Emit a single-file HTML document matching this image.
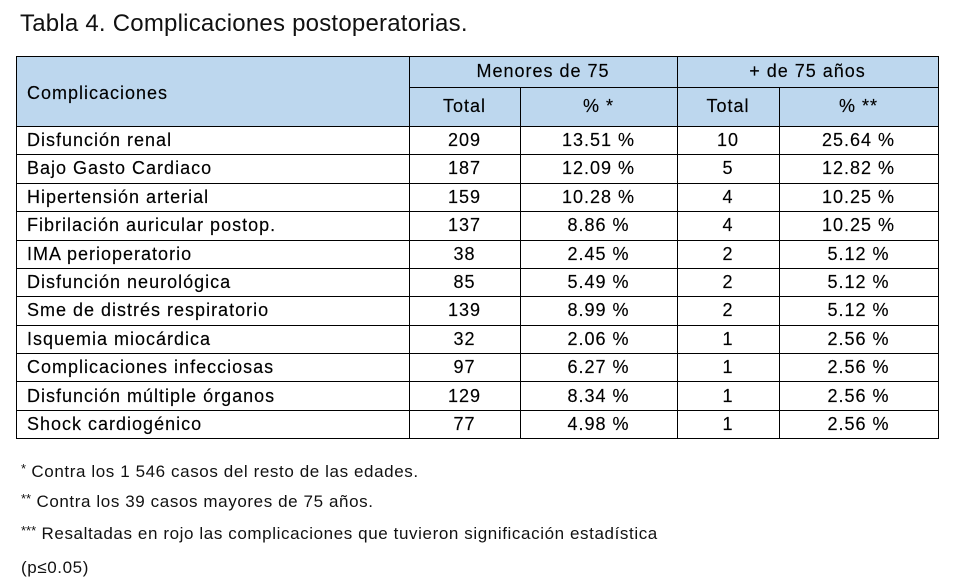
<!DOCTYPE html>
<html>
<head>
<meta charset="utf-8">
<style>
  html,body{margin:0;padding:0;background:#fff;}
  body{width:958px;height:570px;position:relative;overflow:hidden;font-family:"Liberation Sans",Arial,sans-serif;color:#000;}
  .abs{position:absolute;}
  .title{left:20px;top:12px;font-size:24px;line-height:24px;letter-spacing:0.22px;white-space:nowrap;color:#111;}
  .hbg{left:17px;top:57px;width:921px;height:69px;background:#bdd7ee;}
  .hl{position:absolute;height:1px;background:#000;}
  .vl{position:absolute;width:1px;background:#000;}
  .t{position:absolute;font-size:18px;letter-spacing:1px;white-space:nowrap;color:#000;-webkit-text-stroke:0.15px #000;}
  .c{text-align:center;}
  .fn{position:absolute;left:21px;font-size:17px;line-height:17px;letter-spacing:0.6px;white-space:nowrap;color:#111;}
  .fn sup{font-size:13px;vertical-align:0;position:relative;top:-4px;letter-spacing:0;}
</style>
</head>
<body>
<div class="abs title">Tabla 4. Complicaciones postoperatorias.</div>

<div class="abs hbg"></div>

<!-- horizontal lines -->
<div class="hl" style="left:16px;top:56px;width:923px;"></div>
<div class="hl" style="left:409px;top:87px;width:530px;"></div>
<div class="hl" style="left:16px;top:126px;width:923px;"></div>
<div class="hl" style="left:16px;top:154px;width:923px;"></div>
<div class="hl" style="left:16px;top:183px;width:923px;"></div>
<div class="hl" style="left:16px;top:211px;width:923px;"></div>
<div class="hl" style="left:16px;top:240px;width:923px;"></div>
<div class="hl" style="left:16px;top:268px;width:923px;"></div>
<div class="hl" style="left:16px;top:296px;width:923px;"></div>
<div class="hl" style="left:16px;top:325px;width:923px;"></div>
<div class="hl" style="left:16px;top:353px;width:923px;"></div>
<div class="hl" style="left:16px;top:381px;width:923px;"></div>
<div class="hl" style="left:16px;top:410px;width:923px;"></div>
<div class="hl" style="left:16px;top:438px;width:923px;"></div>

<!-- vertical lines -->
<div class="vl" style="left:16px;top:56px;height:383px;"></div>
<div class="vl" style="left:409px;top:56px;height:383px;"></div>
<div class="vl" style="left:520px;top:87px;height:352px;"></div>
<div class="vl" style="left:677px;top:56px;height:383px;"></div>
<div class="vl" style="left:779px;top:87px;height:352px;"></div>
<div class="vl" style="left:938px;top:56px;height:383px;"></div>

<!-- header text -->
<div class="t" style="left:27px;top:58px;line-height:70px;">Complicaciones</div>
<div class="t c" style="left:409px;width:268px;top:56px;line-height:31px;">Menores de 75</div>
<div class="t c" style="left:677px;width:261px;top:56px;line-height:31px;">+ de 75 años</div>
<div class="t c" style="left:409px;width:111px;top:87px;line-height:39px;">Total</div>
<div class="t c" style="left:520px;width:157px;top:87px;line-height:39px;">% *</div>
<div class="t c" style="left:677px;width:102px;top:87px;line-height:39px;">Total</div>
<div class="t c" style="left:779px;width:159px;top:87px;line-height:39px;">% **</div>

<!-- data rows -->
<div style="position:absolute;left:0;top:126px;width:958px;height:28px;">
  <div class="t" style="left:27px;line-height:28px;">Disfunción renal</div>
  <div class="t c" style="left:409px;width:111px;line-height:28px;">209</div>
  <div class="t c" style="left:520px;width:157px;line-height:28px;">13.51 %</div>
  <div class="t c" style="left:677px;width:102px;line-height:28px;">10</div>
  <div class="t c" style="left:779px;width:159px;line-height:28px;">25.64 %</div>
</div>
<div style="position:absolute;left:0;top:154.4px;width:958px;height:28px;">
  <div class="t" style="left:27px;line-height:28px;">Bajo Gasto Cardiaco</div>
  <div class="t c" style="left:409px;width:111px;line-height:28px;">187</div>
  <div class="t c" style="left:520px;width:157px;line-height:28px;">12.09 %</div>
  <div class="t c" style="left:677px;width:102px;line-height:28px;">5</div>
  <div class="t c" style="left:779px;width:159px;line-height:28px;">12.82 %</div>
</div>
<div style="position:absolute;left:0;top:182.8px;width:958px;height:28px;">
  <div class="t" style="left:27px;line-height:28px;">Hipertensión arterial</div>
  <div class="t c" style="left:409px;width:111px;line-height:28px;">159</div>
  <div class="t c" style="left:520px;width:157px;line-height:28px;">10.28 %</div>
  <div class="t c" style="left:677px;width:102px;line-height:28px;">4</div>
  <div class="t c" style="left:779px;width:159px;line-height:28px;">10.25 %</div>
</div>
<div style="position:absolute;left:0;top:211.2px;width:958px;height:28px;">
  <div class="t" style="left:27px;line-height:28px;">Fibrilación auricular postop.</div>
  <div class="t c" style="left:409px;width:111px;line-height:28px;">137</div>
  <div class="t c" style="left:520px;width:157px;line-height:28px;">8.86 %</div>
  <div class="t c" style="left:677px;width:102px;line-height:28px;">4</div>
  <div class="t c" style="left:779px;width:159px;line-height:28px;">10.25 %</div>
</div>
<div style="position:absolute;left:0;top:239.6px;width:958px;height:28px;">
  <div class="t" style="left:27px;line-height:28px;">IMA perioperatorio</div>
  <div class="t c" style="left:409px;width:111px;line-height:28px;">38</div>
  <div class="t c" style="left:520px;width:157px;line-height:28px;">2.45 %</div>
  <div class="t c" style="left:677px;width:102px;line-height:28px;">2</div>
  <div class="t c" style="left:779px;width:159px;line-height:28px;">5.12 %</div>
</div>
<div style="position:absolute;left:0;top:268px;width:958px;height:28px;">
  <div class="t" style="left:27px;line-height:28px;">Disfunción neurológica</div>
  <div class="t c" style="left:409px;width:111px;line-height:28px;">85</div>
  <div class="t c" style="left:520px;width:157px;line-height:28px;">5.49 %</div>
  <div class="t c" style="left:677px;width:102px;line-height:28px;">2</div>
  <div class="t c" style="left:779px;width:159px;line-height:28px;">5.12 %</div>
</div>
<div style="position:absolute;left:0;top:296.4px;width:958px;height:28px;">
  <div class="t" style="left:27px;line-height:28px;">Sme de distrés respiratorio</div>
  <div class="t c" style="left:409px;width:111px;line-height:28px;">139</div>
  <div class="t c" style="left:520px;width:157px;line-height:28px;">8.99 %</div>
  <div class="t c" style="left:677px;width:102px;line-height:28px;">2</div>
  <div class="t c" style="left:779px;width:159px;line-height:28px;">5.12 %</div>
</div>
<div style="position:absolute;left:0;top:324.8px;width:958px;height:28px;">
  <div class="t" style="left:27px;line-height:28px;">Isquemia miocárdica</div>
  <div class="t c" style="left:409px;width:111px;line-height:28px;">32</div>
  <div class="t c" style="left:520px;width:157px;line-height:28px;">2.06 %</div>
  <div class="t c" style="left:677px;width:102px;line-height:28px;">1</div>
  <div class="t c" style="left:779px;width:159px;line-height:28px;">2.56 %</div>
</div>
<div style="position:absolute;left:0;top:353.2px;width:958px;height:28px;">
  <div class="t" style="left:27px;line-height:28px;">Complicaciones infecciosas</div>
  <div class="t c" style="left:409px;width:111px;line-height:28px;">97</div>
  <div class="t c" style="left:520px;width:157px;line-height:28px;">6.27 %</div>
  <div class="t c" style="left:677px;width:102px;line-height:28px;">1</div>
  <div class="t c" style="left:779px;width:159px;line-height:28px;">2.56 %</div>
</div>
<div style="position:absolute;left:0;top:381.6px;width:958px;height:28px;">
  <div class="t" style="left:27px;line-height:28px;">Disfunción múltiple órganos</div>
  <div class="t c" style="left:409px;width:111px;line-height:28px;">129</div>
  <div class="t c" style="left:520px;width:157px;line-height:28px;">8.34 %</div>
  <div class="t c" style="left:677px;width:102px;line-height:28px;">1</div>
  <div class="t c" style="left:779px;width:159px;line-height:28px;">2.56 %</div>
</div>
<div style="position:absolute;left:0;top:410px;width:958px;height:28px;">
  <div class="t" style="left:27px;line-height:28px;">Shock cardiogénico</div>
  <div class="t c" style="left:409px;width:111px;line-height:28px;">77</div>
  <div class="t c" style="left:520px;width:157px;line-height:28px;">4.98 %</div>
  <div class="t c" style="left:677px;width:102px;line-height:28px;">1</div>
  <div class="t c" style="left:779px;width:159px;line-height:28px;">2.56 %</div>
</div>

<!-- footnotes -->
<div class="fn" style="top:463px;"><sup>*</sup> Contra los 1 546 casos del resto de las edades.</div>
<div class="fn" style="top:493px;"><sup>**</sup> Contra los 39 casos mayores de 75 años.</div>
<div class="fn" style="top:525px;"><sup>***</sup> Resaltadas en rojo las complicaciones que tuvieron significación estadística</div>
<div class="fn" style="top:559px;">(p≤0.05)</div>
</body>
</html>
